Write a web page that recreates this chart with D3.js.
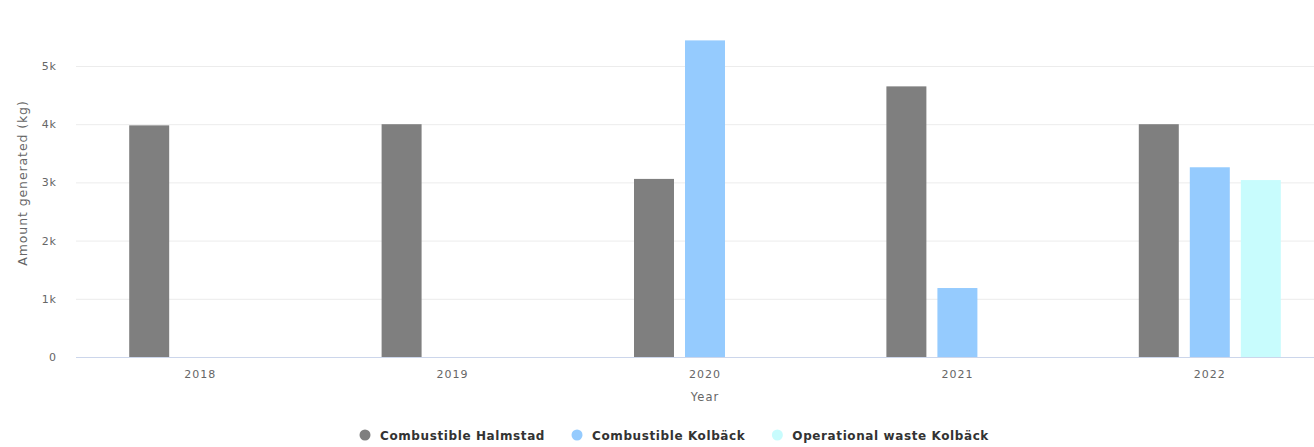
<!DOCTYPE html>
<html lang="en">
<head>
<meta charset="UTF-8">
<title>Waste</title>
<script src="https://d3js.org/d3.v7.min.js"></script>
<style>
  body { margin: 0; background: #fff; }
  text { font-family: "DejaVu Sans", sans-serif; }
</style>
</head>
<body>
<svg width="1314" height="447"></svg>
<script>
const years = ["2018", "2019", "2020", "2021", "2022"];
const seriesNames = ["Combustible Halmstad", "Combustible Kolbäck", "Operational waste Kolbäck"];
const colors = ["#7f7f7f", "#95cbfe", "#c8fcfd"];
const halmstad = [3980, 4000, 3060, 4650, 4000];
const kolback = [null, null, 5440, 1185, 3260];
const operational = [null, null, null, null, 3040];
const yTicks = [0, 1000, 2000, 3000, 4000, 5000];
const yTickLabels = ["0", "1k", "2k", "3k", "4k", "5k"];

const allSeries = [halmstad, kolback, operational];
const svg = d3.select("svg");
const plotLeft = 74, plotRight = 1336, plotBottom = 357, y5k = 66;

const x = d3.scaleBand().domain(years).range([plotLeft, plotRight]);
const y = d3.scaleLinear().domain([0, 5000]).range([plotBottom, y5k]);
// three slots per year, Highcharts-style grouping
const slot = d3.scaleBand().domain(d3.range(3))
  .range([x.bandwidth() / 2 - 71, x.bandwidth() / 2 + 71]).paddingInner(0.216);

// grid
svg.append("g").selectAll("line").data(yTicks.slice(1)).join("line")
  .attr("x1", 76).attr("x2", 1314)
  .attr("y1", d => y(d) + 0.5).attr("y2", d => y(d) + 0.5)
  .attr("stroke", "#ececec");

// y labels
svg.append("g").selectAll("text").data(yTicks).join("text")
  .attr("x", 57).attr("y", d => y(d) + 4)
  .attr("text-anchor", "end").attr("fill", "#666").style("font-size", "11px")
  .style("letter-spacing", "1px")
  .text((d, i) => yTickLabels[i]);

svg.append("text")
  .attr("transform", "translate(27,183) rotate(-90)")
  .attr("text-anchor", "middle").attr("fill", "#666").style("font-size", "12.5px")
  .style("letter-spacing", "0.9px")
  .text("Amount generated (kg)");

// bars
const groups = svg.append("g").selectAll("g").data(years).join("g")
  .attr("transform", d => `translate(${x(d)},0)`);
groups.selectAll("rect")
  .data((yr, i) => allSeries.map((s, k) => ({ k, v: s[i] })).filter(d => d.v != null))
  .join("rect")
  .attr("x", d => slot(d.k))
  .attr("width", slot.bandwidth())
  .attr("y", d => y(d.v))
  .attr("height", d => plotBottom - y(d.v))
  .attr("fill", d => colors[d.k]);

// x axis line
svg.append("line").attr("x1", 76).attr("x2", 1314)
  .attr("y1", plotBottom + 0.5).attr("y2", plotBottom + 0.5).attr("stroke", "#ccd6eb");

svg.append("g").selectAll("text").data(years).join("text")
  .attr("x", d => x(d) + x.bandwidth() / 2).attr("y", 378)
  .attr("text-anchor", "middle").attr("fill", "#666").style("font-size", "11px")
  .style("letter-spacing", "1px")
  .text(d => d);

svg.append("text").attr("x", 705).attr("y", 401)
  .attr("text-anchor", "middle").attr("fill", "#666").style("font-size", "11.5px")
  .style("letter-spacing", "1px")
  .text("Year");

// legend, items laid out one after another
let lx = 365;
seriesNames.forEach((name, i) => {
  const g = svg.append("g").attr("transform", `translate(${lx},435)`);
  g.append("circle").attr("r", 5.5).attr("fill", colors[i]);
  const t = g.append("text").attr("x", 15).attr("y", 4.5)
    .attr("fill", "#333").style("font-size", "12px").style("font-weight", "bold")
    .style("letter-spacing", "0.6px")
    .text(name);
  lx += 15 + t.node().getComputedTextLength() + 32;
});
</script>
</body>
</html>
